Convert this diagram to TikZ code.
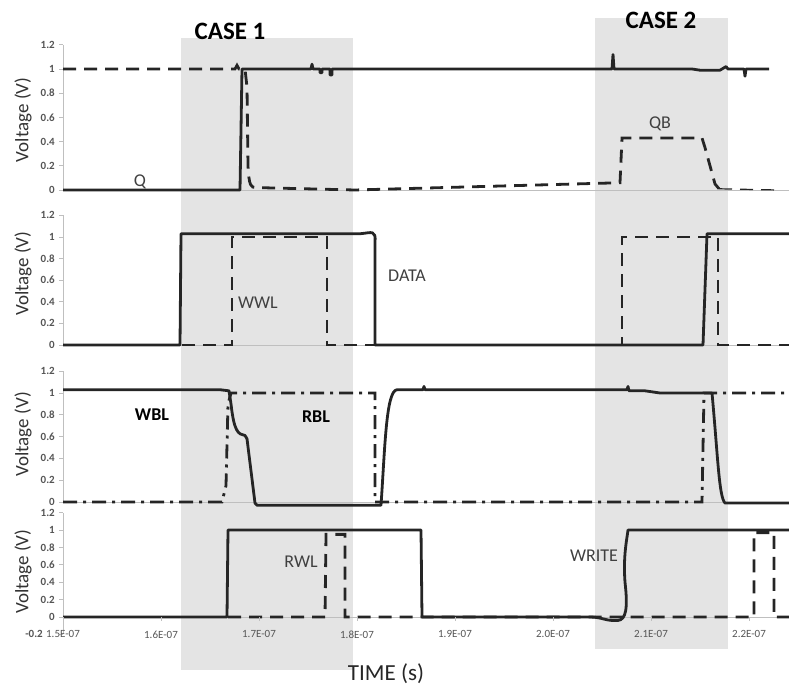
\documentclass[tikz,border=0pt]{standalone}
\usepackage{fontspec}
\setmainfont{Carlito}
\definecolor{casegray}{HTML}{E4E4E4}
\definecolor{axisgray}{HTML}{BFBFBF}
\definecolor{ticktext}{HTML}{555555}
\definecolor{trace}{HTML}{252525}
\tikzstyle{case box}=[fill=casegray,draw=none]
\tikzstyle{axis}=[draw=axisgray,line width=0.8pt]
\tikzstyle{ytick}=[font=\fontsize{11}{11}\selectfont\bfseries,text=ticktext,anchor=east,inner sep=0pt]
\tikzstyle{xtick}=[font=\fontsize{11}{11}\selectfont,text=ticktext,inner sep=0pt]
\tikzstyle{ylabel}=[font=\fontsize{19}{19}\selectfont,text=black!80,rotate=90]
\tikzstyle{signal}=[font=\fontsize{18}{18}\selectfont,text=black!75,inner sep=0pt]
\tikzstyle{bold signal}=[signal,font=\fontsize{18}{18}\selectfont\bfseries,text=black]
\tikzstyle{solid trace}=[draw=trace,line width=2.8pt,line join=round]
\tikzstyle{dashed trace}=[draw=trace,line width=2.8pt,dash pattern=on 13pt off 8pt]
\tikzstyle{dashdot trace}=[draw=trace,line width=2.8pt,dash pattern=on 14pt off 6pt on 3pt off 6pt]

\begin{document}
\begin{tikzpicture}[x=1pt,y=1pt]
  \useasboundingbox (0,0) rectangle (789,688);
    % First the two shaded cases
    \fill[case box] (181,18) rectangle (353,650);
    \fill[case box] (595,39) rectangle (728,670);
    \node[font=\fontsize{25}{25}\selectfont\bfseries] (case1) at (230,657) {CASE 1};
    \node[font=\fontsize{25}{25}\selectfont\bfseries] (case2) at (661,668) {CASE 2};
    % Axes of the four panels
    \foreach \name/\base/\unit/\low/\mid in {q/498/121pt/0/0.58,data/343/108pt/0/0.66,
                                            bl/186/109pt/0/0.62,wl/71/87pt/-0.2/0.52}
    {
      \begin{scope}[shift={(0,\base)},y=\unit]
        \draw[axis] (63,\low) -- (63,1.2);
        \draw[axis] (63,0) -- (789,0);
        \foreach \v/\k in {0/0,0.2/1,0.4/2,0.6/3,0.8/4,1/5,1.2/6}
        {
          \draw[axis] (59,\v) -- (63,\v);
          \node[ytick] (\name-tick-\k) at (55,\v) {\v};
        }
        \node[ylabel] (\name-ylabel) at (23,\mid) {Voltage (V)};
      \end{scope}
    }
    % Panel 1: Q and QB
    \begin{scope}[shift={(0,498)},y=121pt]
      \draw[dashed trace] (63,1) -- (235,1) -- (237,1.03) -- (239,1) -- (245,1) -- (247,0.85)
        -- (248,0.2) .. controls (249,0.03) and (251,0.02) .. (256,0.02) -- (355,0)
        -- (620,0.06) -- (622,0.43) -- (702,0.43) -- (705,0.35) -- (715,0.05) -- (719,0.01);
      \draw[dashed trace,line width=1.2pt] (719,0.01) -- (778,0);
      \draw[solid trace] (63,0) -- (240,0) -- (242,1) -- (311,1) -- (312,1.04) -- (313,1)
        -- (320,1) -- (320,0.97) -- (322,0.97) -- (322,1) -- (330,1) -- (330,0.95)
        -- (332,0.95) -- (332,1) -- (612,1) -- (613,1.12) -- (614,1) -- (692,1)
        -- (700,0.99) -- (720,0.99) -- (726,1.02) -- (728,1) -- (744,1) -- (745,0.94)
        -- (746,1) -- (769,1);
      \node[signal] (q) at (140,0.07) {Q};
      \node[signal] (qb) at (660,0.55) {QB};
    \end{scope}
    % Panel 2: DATA and WWL
    \begin{scope}[shift={(0,343)},y=108pt]
      \draw[dashed trace] (182,0) -- (232,0) -- (232,1) -- (327,1) -- (327,0) -- (622,0)
        -- (622,1) -- (718,1) -- (718,0) -- (789,0);
      \draw[solid trace] (63,0) -- (180,0) -- (181,1.03) -- (360,1.03)
        .. controls (372,1.04) and (376,1.07) .. (375,0.95) -- (375,0) -- (703,0)
        -- (707,1.03) -- (789,1.03);
      \node[signal] (wwl) at (258,0.39) {WWL};
      \node[signal] (data) at (407,0.64) {DATA};
    \end{scope}
    % Panel 3: WBL and RBL
    \begin{scope}[shift={(0,186)},y=109pt]
      \draw[dashdot trace] (63,0) -- (222,0) -- (226,0.15) -- (228,0.9) -- (231,1)
        -- (375,1) -- (375,0) -- (702,0) -- (704,1) -- (789,1);
      \draw[solid trace] (63,1.03) -- (220,1.03) -- (229,1.02) -- (231,0.9)
        .. controls (234,0.65) and (238,0.62) .. (245,0.61) -- (247,0.58) -- (255,-0.01)
        -- (257,-0.03) -- (381,-0.03) .. controls (385,0.5) and (386,1.02) .. (397,1.03)
        -- (423,1.03) -- (424,1.06) -- (425,1.03) -- (627,1.03) -- (628,1.06)
        -- (629,1.02) -- (645,1.02) -- (660,1.0) -- (712,1.0) .. controls (718,0.4)
        and (719,0.05) .. (725,-0.01) -- (789,-0.01);
      \node[bold signal] (wbl) at (152,0.8) {WBL};
      \node[bold signal] (rbl) at (316,0.78) {RBL};
    \end{scope}
    % Panel 4: WRITE and RWL, with the time axis
    \begin{scope}[shift={(0,71)},y=87pt]
      \draw[dashed trace] (228,0) -- (325,0) -- (326,0.95) -- (345,0.95) -- (345,0)
        -- (754,0) -- (754,0.97) -- (774,0.97) -- (774,0) -- (789,0);
      \draw[solid trace] (63,0) -- (227,0) -- (228,1) -- (421,1) -- (422,0) -- (590,0)
        .. controls (602,0) and (606,-0.05) .. (618,-0.04)
        .. controls (626,-0.03) and (628,0.1) .. (625,0.4)
        .. controls (623,0.7) and (627,0.9) .. (628,1) -- (789,1);
      \node[signal] (rwl) at (301,0.64) {RWL};
      \node[signal] (write) at (594,0.7) {WRITE};
      \draw[axis] (63,-0.2) -- (63,0);
      \draw[axis] (59,-0.2) -- (63,-0.2);
      \node[ytick] (wl-tick-m) at (43,-0.2) {-0.2};
      \foreach \x/\lab [count=\i] in {63/1.5E-07,161/1.6E-07,259/1.7E-07,357/1.8E-07,
                                      455/1.9E-07,553/2.0E-07,651/2.1E-07,749/2.2E-07}
      {
        \draw[axis] (\x,0) -- (\x,-0.05);
        \node[xtick] (time-\i) at (\x,-0.2) {\lab};
      }
    \end{scope}
    \node[font=\fontsize{23}{23}\selectfont,text=black!85] (time) at (386,14) {TIME (s)};
\end{tikzpicture}
\end{document}
